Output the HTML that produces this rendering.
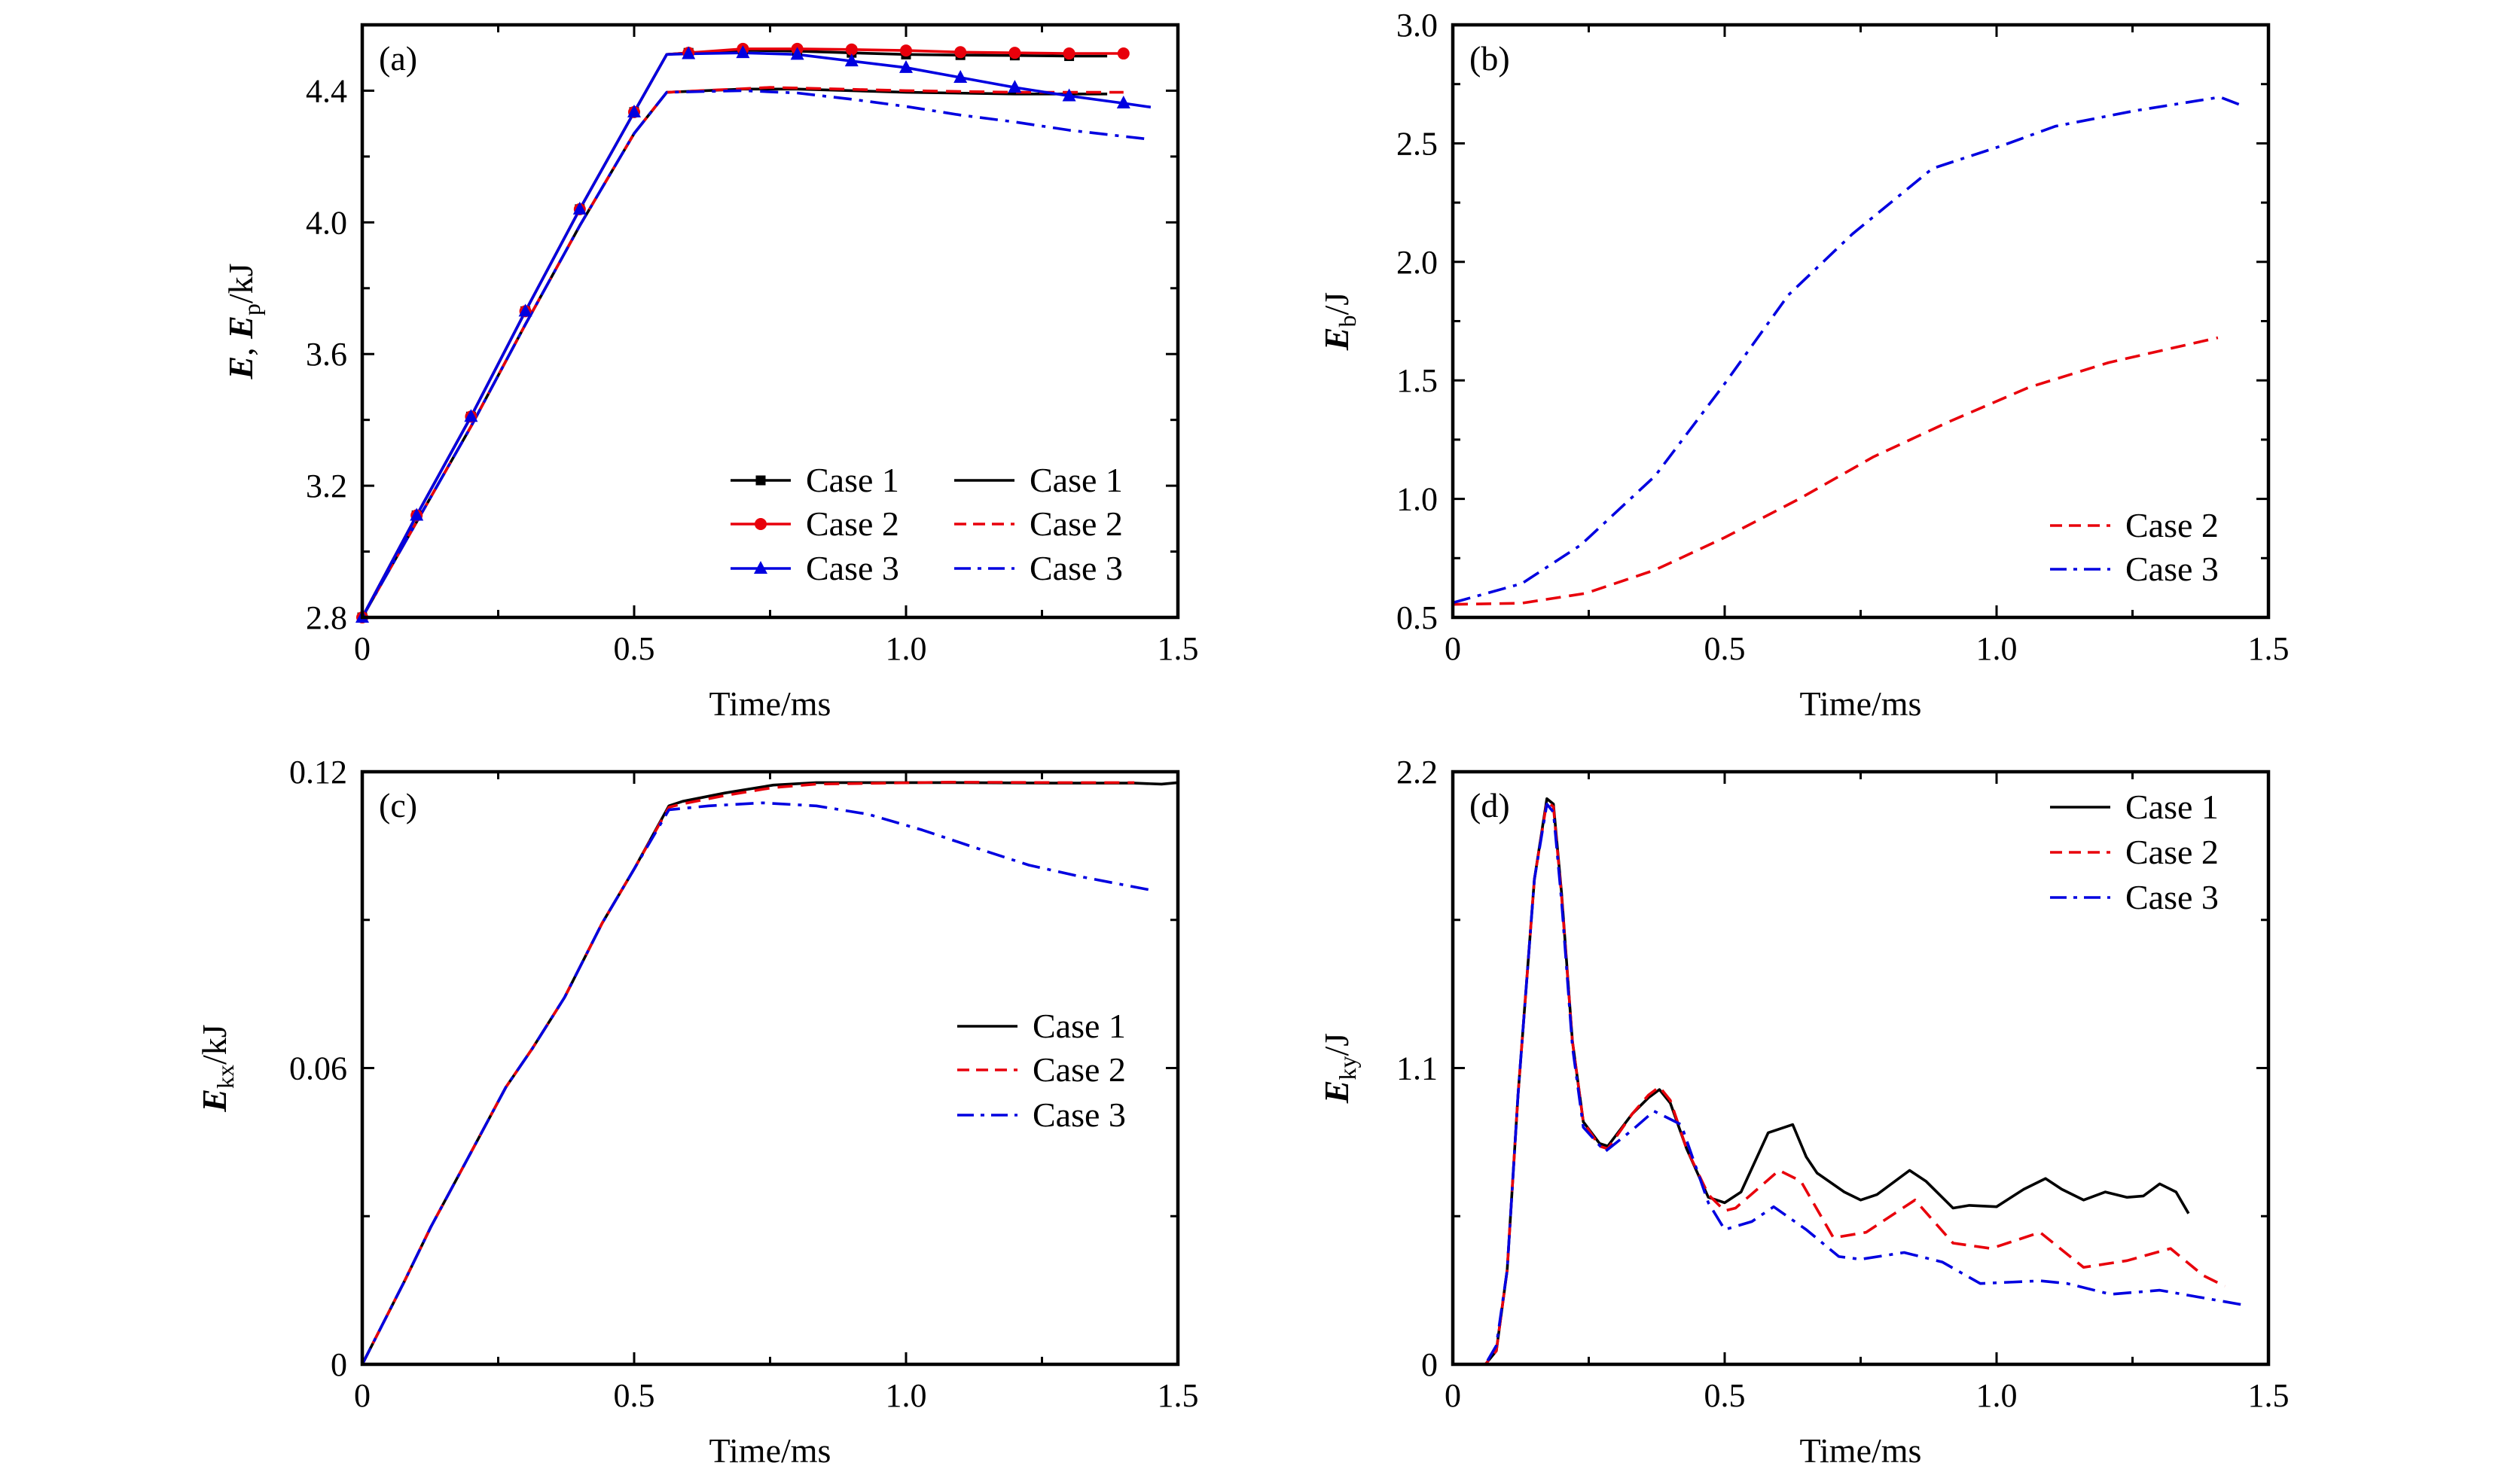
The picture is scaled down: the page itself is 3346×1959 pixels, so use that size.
<!DOCTYPE html>
<html><head><meta charset="utf-8"><style>
html,body{margin:0;padding:0;background:#fff;}
svg{display:block;font-family:"Liberation Serif",serif;}
</style></head><body>
<svg id="fig" width="3346" height="1959" viewBox="0 0 3346 1959" xmlns="http://www.w3.org/2000/svg"></svg>
<script>
// ---------- data ----------
// Panel (a) E (solid w/ markers) and Ep (lines)
const aE1x=[0,0.1,0.2,0.3,0.4,0.5,0.56,0.6,0.7,0.8,0.9,1.0,1.1,1.2,1.3,1.37];
const aE1y=[2.8,3.11,3.41,3.73,4.04,4.335,4.51,4.515,4.523,4.52,4.515,4.51,4.508,4.507,4.505,4.505];
const aE2x=[0,0.1,0.2,0.3,0.4,0.5,0.56,0.6,0.7,0.8,0.9,1.0,1.1,1.2,1.3,1.4];
const aE2y=[2.8,3.11,3.41,3.73,4.04,4.335,4.51,4.515,4.527,4.527,4.525,4.522,4.517,4.515,4.513,4.513];
const aE3x=[0,0.1,0.2,0.3,0.4,0.5,0.56,0.6,0.7,0.8,0.9,1.0,1.1,1.2,1.3,1.4,1.45];
const aE3y=[2.8,3.11,3.41,3.73,4.04,4.335,4.51,4.512,4.515,4.51,4.49,4.47,4.44,4.41,4.384,4.362,4.35];
const aE1mk=13, aE2mk=14, aE3mk=14; // number of markers along each series
const aP1x=[0,0.1,0.2,0.3,0.4,0.5,0.56,0.7,0.8,1.0,1.2,1.37];
const aP1y=[2.8,3.09,3.38,3.69,3.99,4.27,4.395,4.405,4.405,4.395,4.39,4.39];
const aP2x=[0,0.1,0.2,0.3,0.4,0.5,0.56,0.75,1.0,1.2,1.4];
const aP2y=[2.8,3.09,3.38,3.69,3.99,4.27,4.395,4.41,4.4,4.395,4.395];
const aP3x=[0,0.1,0.2,0.3,0.4,0.5,0.56,0.7,0.8,0.9,1.0,1.1,1.2,1.3,1.45];
const aP3y=[2.8,3.09,3.38,3.69,3.99,4.27,4.395,4.40,4.393,4.374,4.352,4.326,4.305,4.28,4.252];
// Panel (b) Eb
const b2x=[0,0.127,0.245,0.372,0.5,0.637,0.774,0.911,1.059,1.206,1.407];
const b2y=[0.555,0.56,0.602,0.70,0.837,1.0,1.178,1.324,1.47,1.575,1.68];
const b3x=[0,0.127,0.235,0.372,0.5,0.617,0.735,0.882,1.01,1.108,1.255,1.411,1.451];
const b3y=[0.562,0.643,0.805,1.097,1.486,1.86,2.118,2.394,2.49,2.572,2.638,2.695,2.66];
// Panel (c) Ekx
const c1x=[0,0.077,0.126,0.195,0.264,0.313,0.372,0.441,0.5,0.564,0.589,0.667,0.756,0.835,1.08,1.28,1.42,1.47,1.5];
const c1y=[0,0.0167,0.0278,0.0419,0.0561,0.064,0.0743,0.0893,0.1003,0.1131,0.114,0.1157,0.1173,0.1178,0.1178,0.1177,0.1177,0.1175,0.1178];
const c2x=[0,0.077,0.126,0.195,0.264,0.313,0.372,0.441,0.5,0.564,0.589,0.667,0.756,0.835,1.08,1.28,1.42];
const c2y=[0,0.0167,0.0278,0.0419,0.0561,0.064,0.0743,0.0893,0.1003,0.1128,0.1135,0.1152,0.1168,0.1175,0.1179,0.1178,0.1178];
const c3x=[0,0.077,0.126,0.195,0.264,0.313,0.372,0.441,0.5,0.564,0.637,0.736,0.835,0.93,1.03,1.128,1.226,1.324,1.452];
const c3y=[0,0.0167,0.0278,0.0419,0.0561,0.064,0.0743,0.0893,0.1003,0.1123,0.1131,0.1137,0.1131,0.1114,0.1082,0.1046,0.1011,0.0987,0.096];
// Panel (d) Eky
const d1x=[0,0.06,0.08,0.1,0.12,0.15,0.173,0.185,0.2,0.22,0.24,0.27,0.285,0.33,0.36,0.38,0.4,0.43,0.47,0.5,0.53,0.58,0.625,0.65,0.67,0.72,0.75,0.78,0.84,0.87,0.92,0.95,1.0,1.05,1.09,1.12,1.16,1.2,1.24,1.27,1.3,1.33,1.353];
const d1y=[0,0,0.05,0.35,1.0,1.8,2.1,2.08,1.75,1.2,0.9,0.82,0.81,0.93,0.99,1.02,0.97,0.8,0.62,0.6,0.64,0.86,0.89,0.77,0.71,0.64,0.61,0.63,0.72,0.68,0.58,0.59,0.585,0.65,0.69,0.65,0.61,0.64,0.62,0.625,0.67,0.64,0.56];
const d2x=[0,0.06,0.08,0.1,0.12,0.15,0.173,0.185,0.2,0.22,0.24,0.27,0.285,0.33,0.36,0.38,0.4,0.43,0.47,0.5,0.52,0.6,0.64,0.7,0.76,0.85,0.92,0.99,1.08,1.16,1.24,1.32,1.38,1.42];
const d2y=[0,0,0.05,0.35,1.0,1.8,2.09,2.07,1.74,1.2,0.9,0.81,0.8,0.93,1.0,1.03,0.98,0.8,0.63,0.57,0.58,0.72,0.68,0.47,0.49,0.61,0.45,0.43,0.49,0.36,0.385,0.43,0.33,0.29];
const d3x=[0,0.06,0.08,0.1,0.12,0.15,0.173,0.185,0.2,0.22,0.24,0.28,0.33,0.37,0.42,0.47,0.5,0.55,0.59,0.65,0.71,0.75,0.83,0.9,0.97,1.08,1.13,1.21,1.3,1.45];
const d3y=[0,0,0.07,0.35,1.0,1.8,2.08,2.05,1.72,1.18,0.88,0.79,0.87,0.94,0.89,0.6,0.5,0.53,0.585,0.5,0.4,0.39,0.415,0.38,0.3,0.31,0.3,0.26,0.275,0.222];
// tick labels
const xTicks=["0","0.5","1.0","1.5"];
const aTicks=["2.8","3.2","3.6","4.0","4.4"];
const bTicks=["0.5","1.0","1.5","2.0","2.5","3.0"];
const cTicks=["0","0.06","0.12"];
const dTicks=["0","1.1","2.2"];

// ---------- drawing ----------
const NS="http://www.w3.org/2000/svg";
const svg=document.getElementById('fig');
function mk(tag,attrs,parent){const e=document.createElementNS(NS,tag);for(const k in attrs)e.setAttribute(k,attrs[k]);(parent||svg).appendChild(e);return e;}
const DASH={solid:null,dash:"20 11",dashdot:"24 10 5 10"};
const COL={k:"#000",r:"#e8000b",b:"#0000e0"};

function panel(name,L,T,W,H,ymin,ymax,yt,ymin0,ystep,minorStep){
  const g=mk('g',{});
  
  
  const sx=v=>L+v/1.5*W, sy=v=>T+H-(v-ymin)/(ymax-ymin)*H;
  const tk=mk('g',{stroke:'#000','stroke-width':3},g);
  
  
  for(let i=0;i<=6;i++){const x=sx(i*0.25);const len=i%2?10:16;
    mk('line',{x1:x,y1:T+H,x2:x,y2:T+H-len},tk);mk('line',{x1:x,y1:T,x2:x,y2:T+len},tk);}
  for(let v=ymin;v<=ymax+1e-9;v+=minorStep){const y=sy(v);const maj=Math.abs(((v-ymin0)/ystep)-Math.round((v-ymin0)/ystep))<1e-6;const len=maj?16:10;
    mk('line',{x1:L,y1:y,x2:L+len,y2:y},tk);mk('line',{x1:L+W,y1:y,x2:L+W-len,y2:y},tk);}
  xTicks.forEach((t,i)=>{const e=mk('text',{x:sx(i*0.5),y:T+H+56,'font-size':44,'text-anchor':'middle'},g);e.textContent=t;
    });
  yt.forEach((t,i)=>{const e=mk('text',{x:L-20,y:sy(ymin0+i*ystep)+15,'font-size':44,'text-anchor':'end'},g);e.textContent=t;
    });
  const xl=mk('text',{x:L+W/2,y:T+H+130,'font-size':46,'text-anchor':'middle'},g);xl.textContent='Time/ms';
  
  return {g,sx,sy,L,T,W,H};
}
function frame(p){const r=mk('rect',{x:p.L,y:p.T,width:p.W,height:p.H,fill:'none',stroke:'#000','stroke-width':4.5},p.g);
  }
function series(p,xs,ys,col,dash,name){
  const d=xs.map((x,i)=>(i?'L':'M')+p.sx(x).toFixed(1)+','+p.sy(ys[i]).toFixed(1)).join(' ');
  const a={d,fill:'none',stroke:COL[col],'stroke-width':3.6,'stroke-linejoin':'round'};
  if(DASH[dash])a['stroke-dasharray']=DASH[dash];
  const e=mk('path',a,p.g);return e;
}
function marker(g,x,y,type,col){
  let e;
  if(type==='sq')e=mk('rect',{x:x-6.5,y:y-6.5,width:13,height:13,fill:COL[col]},g);
  else if(type==='ci')e=mk('circle',{cx:x,cy:y,r:8,fill:COL[col]},g);
  else e=mk('polygon',{points:`${x},${y-10} ${x-9},${y+7} ${x+9},${y+7}`,fill:COL[col]},g);
  
}
function markersOn(p,xs,ys,n,type,col){
  for(let k=0;k<n;k++){const xv=k*0.1;let j=0;while(j<xs.length-2&&xs[j+1]<xv)j++;
    const t=(xv-xs[j])/(xs[j+1]-xs[j]);const yv=ys[j]+t*(ys[j+1]-ys[j]);marker(p.g,p.sx(xv),p.sy(yv),type,col);}
}
function legend(p,x,y,col,dash,label,mtype){
  const g=mk('g',{},p.g);
  const a={x1:x,y1:y,x2:x+80,y2:y,stroke:COL[col],'stroke-width':3.6};if(DASH[dash])a['stroke-dasharray']=dash==='dash'?'16 9':'22 9 5 9';
  mk('line',a,g);if(mtype)marker(g,x+40,y,mtype,col);
  const t=mk('text',{x:x+100,y:y+15,'font-size':46},g);t.textContent=label;
}
function ylabel(p,x,parts){
  const t=mk('text',{x:0,y:0,'font-size':46,'text-anchor':'middle',transform:`translate(${x},${p.T+p.H/2}) rotate(-90)`},p.g);
  
  parts.forEach(q=>{const s=mk('tspan',{},t);if(q.i)s.setAttribute('font-style','italic');if(q.i)s.setAttribute('font-weight','bold');
    if(q.sub){s.setAttribute('font-size',32);s.setAttribute('dy',10);}if(q.up){s.setAttribute('dy',-10);}s.textContent=q.t;});
}
function plabel(p,txt){const t=mk('text',{x:p.L+22,y:p.T+60,'font-size':46},p.g);t.textContent=txt;
  }

// (a)
const A=panel('panel-a',481,33,1083,787,2.8,4.6,aTicks,2.8,0.4,0.2);
series(A,aP1x,aP1y,'k','solid','ep-case1');series(A,aP2x,aP2y,'r','dash','ep-case2');series(A,aP3x,aP3y,'b','dashdot','ep-case3');
series(A,aE1x,aE1y,'k','solid','e-case1');series(A,aE2x,aE2y,'r','solid','e-case2');series(A,aE3x,aE3y,'b','solid','e-case3');
markersOn(A,aE1x,aE1y,aE1mk+1,'sq','k');markersOn(A,aE2x,aE2y,aE2mk+1,'ci','r');markersOn(A,aE3x,aE3y,aE3mk+1,'tr','b');
frame(A);plabel(A,'(a)');
ylabel(A,335,[{t:'E',i:1},{t:', '},{t:'E',i:1},{t:'p',sub:1},{t:'/kJ',up:1}]);
legend(A,970,638,'k','solid','Case 1','sq');legend(A,970,696,'r','solid','Case 2','ci');legend(A,970,755,'b','solid','Case 3','tr');
legend(A,1267,638,'k','solid','Case 1');legend(A,1267,696,'r','dash','Case 2');legend(A,1267,755,'b','dashdot','Case 3');
// (b)
const B=panel('panel-b',1929,33,1083,787,0.5,3.0,bTicks,0.5,0.5,0.25);
series(B,b2x,b2y,'r','dash','eb-case2');series(B,b3x,b3y,'b','dashdot','eb-case3');
frame(B);plabel(B,'(b)');
ylabel(B,1790,[{t:'E',i:1},{t:'b',sub:1},{t:'/J',up:1}]);
legend(B,2722,698,'r','dash','Case 2');legend(B,2722,756,'b','dashdot','Case 3');
// (c)
const C=panel('panel-c',481,1025,1083,787,0,0.12,cTicks,0,0.06,0.03);
series(C,c1x,c1y,'k','solid','ekx-case1');series(C,c2x,c2y,'r','dash','ekx-case2');series(C,c3x,c3y,'b','dashdot','ekx-case3');
frame(C);plabel(C,'(c)');
ylabel(C,300,[{t:'E',i:1},{t:'kx',sub:1},{t:'/kJ',up:1}]);
legend(C,1271,1363,'k','solid','Case 1');legend(C,1271,1421,'r','dash','Case 2');legend(C,1271,1481,'b','dashdot','Case 3');
// (d)
const D=panel('panel-d',1929,1025,1083,787,0,2.2,dTicks,0,1.1,0.55);
series(D,d1x,d1y,'k','solid','eky-case1');series(D,d2x,d2y,'r','dash','eky-case2');series(D,d3x,d3y,'b','dashdot','eky-case3');
frame(D);plabel(D,'(d)');
ylabel(D,1790,[{t:'E',i:1},{t:'ky',sub:1},{t:'/J',up:1}]);
legend(D,2722,1072,'k','solid','Case 1');legend(D,2722,1132,'r','dash','Case 2');legend(D,2722,1192,'b','dashdot','Case 3');
</script>
</body></html>
